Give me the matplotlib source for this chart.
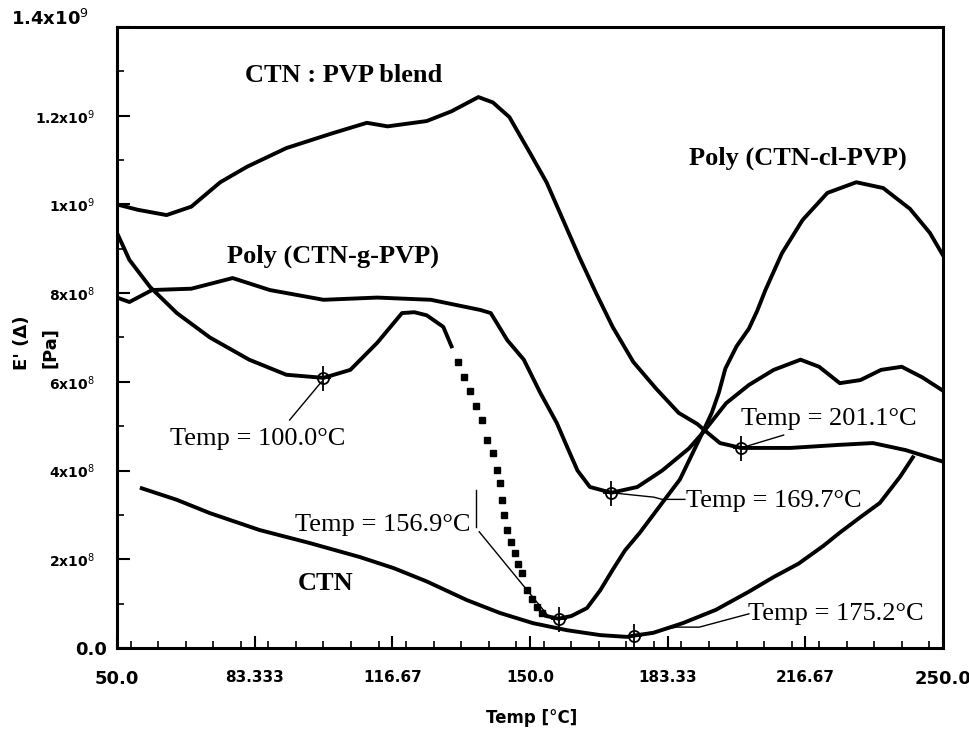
import numpy as np
import matplotlib
matplotlib.use('Agg')
import matplotlib.pyplot as plt
from matplotlib.ticker import MultipleLocator, FixedLocator
from matplotlib.transforms import ScaledTranslation

# values, E' in units of 1e8 Pa
blend_t = [50, 55, 62, 68, 75, 81.5, 91, 102, 110.5, 115.5, 125, 131, 137.5, 141, 145,
           150, 154, 158, 162, 166, 170, 175, 180.5, 186, 190.5, 193, 196, 201.1, 213,
           225, 233, 241, 250]
blend_e = [10.0, 9.88, 9.76, 9.95, 10.5, 10.85, 11.27, 11.6, 11.84, 11.76, 11.88, 12.1,
           12.42, 12.3, 11.97, 11.16, 10.5, 9.65, 8.8, 8.0, 7.24, 6.45, 5.85, 5.3, 5.05,
           4.85, 4.62, 4.51, 4.51, 4.58, 4.62, 4.46, 4.2]

graft_t = [50, 53, 58.5, 68, 78, 87, 100, 113, 126, 138, 140.5, 144.5, 148.5, 152.5,
           156.5, 159, 161.5, 164.5, 169.7, 176, 182, 188.5, 192, 197.5, 203, 209, 215.5,
           220, 225, 230, 235, 240, 245, 250]
graft_e = [7.9, 7.8, 8.07, 8.1, 8.34, 8.07, 7.85, 7.9, 7.85, 7.62, 7.55, 6.94, 6.5, 5.75,
           5.07, 4.53, 4.0, 3.63, 3.5, 3.63, 4.0, 4.5, 4.87, 5.52, 5.93, 6.27, 6.5, 6.34,
           5.97, 6.04, 6.27, 6.34, 6.1, 5.8]

# Poly(CTN-cl-PVP): solid / sparse square points / solid
cl1_t = [50, 53, 58, 64.5, 72.5, 82, 91, 100, 106.5, 113, 119, 122, 125, 129, 131]
cl1_e = [9.36, 8.75, 8.14, 7.55, 7.0, 6.5, 6.16, 6.09, 6.27, 6.88, 7.55, 7.57, 7.5, 7.24, 6.8]
cl_dot_t = [132.5, 134, 135.5, 137, 138.4, 139.6, 141, 142, 142.7, 143.2, 143.8, 144.4,
            145.4, 146.4, 147.2, 148, 149.3, 150.5, 151.7, 153]
cl_dot_e = [6.45, 6.1, 5.8, 5.45, 5.14, 4.69, 4.4, 4.01, 3.72, 3.34, 3.0, 2.66, 2.4, 2.14,
            1.9, 1.69, 1.3, 1.1, 0.92, 0.78]
cl2_t = [154, 156.9, 160, 163.8, 167, 170, 173, 176.6, 182, 186.3, 192, 194, 195.7, 197.3,
         200, 203, 205, 207, 211, 216, 222, 229, 235.5, 242, 246.8, 250]
cl2_e = [0.72, 0.66, 0.72, 0.9, 1.3, 1.76, 2.2, 2.6, 3.27, 3.8, 4.9, 5.3, 5.75, 6.3,
         6.8, 7.2, 7.6, 8.07, 8.9, 9.65, 10.26, 10.5, 10.37, 9.9, 9.36, 8.85]

ctn_t = [56, 64.5, 72.5, 84.5, 96.5, 108.8, 117, 125, 134.7, 142.7, 150.7, 159, 167, 173.5,
         175.2, 179.8, 187, 195, 203, 209, 215, 221, 225, 230, 234.7, 239.6, 242.7]
ctn_e = [3.6, 3.34, 3.04, 2.66, 2.37, 2.05, 1.8, 1.5, 1.08, 0.79, 0.56, 0.4, 0.29, 0.25,
         0.28, 0.34, 0.56, 0.86, 1.27, 1.6, 1.9, 2.3, 2.6, 2.95, 3.27, 3.86, 4.3]

# marked cursor points (temp, E')
mark_t = [100.0, 156.9, 169.7, 201.1, 175.2]
mark_e = [6.09, 0.66, 3.5, 4.51, 0.28]

xticks = [50, 83.333, 116.67, 150, 183.33, 216.67, 250]
xtick_labels = ['50.0', '83.333', '116.67', '150.0', '183.33', '216.67', '250.0']
yticks = [0, 2, 4, 6, 8, 10, 12, 14]
ytick_labels = ['0.0', '2x10$^8$', '4x10$^8$', '6x10$^8$', '8x10$^8$',
                '1x10$^9$', '1.2x10$^9$', '1.4x10$^9$']

S = 1e8
serif = 'Liberation Serif'

fig = plt.figure(figsize=(9.7, 7.34), dpi=100)
ax = fig.add_axes([0.1206, 0.1172, 0.8516, 0.846])

lw = 2.8
ax.plot(blend_t, np.array(blend_e) * S, color='black', lw=lw)
ax.plot(graft_t, np.array(graft_e) * S, color='black', lw=lw)
ax.plot(cl1_t, np.array(cl1_e) * S, color='black', lw=lw)
ax.plot(cl_dot_t, np.array(cl_dot_e) * S, 's', color='black', ms=4.5, ls='none')
ax.plot(cl2_t, np.array(cl2_e) * S, color='black', lw=lw)
ax.plot(ctn_t, np.array(ctn_e) * S, color='black', lw=lw)

# cursor markers
ax.plot(mark_t, np.array(mark_e) * S, 'o', ms=8, mfc='none', mec='black', mew=1.3)
ax.plot(mark_t, np.array(mark_e) * S, '|', ms=18, mec='black', mew=1.3)
ax.plot(mark_t, np.array(mark_e) * S, '_', ms=12, mec='black', mew=1.3)

# curve names
ax.text(80.9, 12.76 * S, 'CTN : PVP blend', family=serif, fontweight='bold', fontsize=19)
ax.text(76.6, 8.68 * S, 'Poly (CTN-g-PVP)', family=serif, fontweight='bold', fontsize=19)
ax.text(188.4, 10.89 * S, 'Poly (CTN-cl-PVP)', family=serif, fontweight='bold', fontsize=19)
ax.text(93.7, 1.31 * S, 'CTN', family=serif, fontweight='bold', fontsize=19)

# cursor readouts + leader lines
ax.text(62.8, 4.58 * S, 'Temp = 100.0°C', family=serif, fontsize=19)
ax.plot([91.8, 99.5], [5.14 * S, 6.0 * S], color='black', lw=1)

ax.text(93.0, 2.64 * S, 'Temp = 156.9°C', family=serif, fontsize=19)
ax.plot([137, 137], [3.56 * S, 2.73 * S], color='black', lw=1)
ax.plot([137.7, 154.6], [2.62 * S, 0.7 * S], color='black', lw=1)

ax.text(187.7, 3.18 * S, 'Temp = 169.7°C', family=serif, fontsize=19)
ax.plot([169.7, 180, 182, 187.5], [3.5 * S, 3.4 * S, 3.35 * S, 3.35 * S], color='black', lw=1)

ax.text(201.2, 5.03 * S, 'Temp = 201.1°C', family=serif, fontsize=19)
ax.plot([201.1, 211.4], [4.51 * S, 4.8 * S], color='black', lw=1)

ax.text(202.9, 0.63 * S, 'Temp = 175.2°C', family=serif, fontsize=19)
ax.plot([175.2, 185.5, 191, 203], [0.28 * S, 0.47 * S, 0.47 * S, 0.77 * S], color='black', lw=1)

ax.set_xlim(50, 250)
ax.set_ylim(0, 14 * S)

ax.xaxis.set_major_locator(FixedLocator(xticks))
ax.set_xticklabels(xtick_labels)
ax.xaxis.set_minor_locator(MultipleLocator(200 / 30))
ax.yaxis.set_major_locator(FixedLocator(np.array(yticks) * S))
ax.set_yticklabels(ytick_labels)
ax.yaxis.set_minor_locator(MultipleLocator(1 * S))

ax.tick_params(which='major', direction='in', length=9, width=1.5, top=False, right=False)
ax.tick_params(which='minor', direction='in', length=5, width=1.2, top=False, right=False)
ax.tick_params(axis='x', pad=16)

for lbl in ax.get_xticklabels():
    lbl.set_fontweight('bold')
    lbl.set_fontsize(13 if lbl.get_text() in ('50.0', '250.0') else 11)

# y labels: ends are big, the middle ones are small and sit further left
big_y = ('0.0', '1.4x10$^9$')
for tick, txt in zip(ax.yaxis.get_major_ticks(), ytick_labels):
    lbl = tick.label1
    lbl.set_fontweight('bold')
    if txt in big_y:
        lbl.set_fontsize(13)
        tick.set_pad(7 if txt == '0.0' else 20)
    else:
        lbl.set_fontsize(10)
        tick.set_pad(16)
top_lbl = ax.yaxis.get_major_ticks()[-1].label1
top_lbl.set_transform(top_lbl.get_transform() + ScaledTranslation(0, 7 / 72, fig.dpi_scale_trans))

for sp in ax.spines.values():
    sp.set_linewidth(2.2)

fig.text(0.0227, 0.533, "E' (Δ)", rotation=90, fontweight='bold', fontsize=13,
         ha='center', va='center')
fig.text(0.0515, 0.527, '[Pa]', rotation=90, fontweight='bold', fontsize=13,
         ha='center', va='center')
fig.text(0.548, 0.022, 'Temp [°C]', fontweight='bold', fontsize=12, ha='center', va='center')

fig.savefig('out.png', dpi=100)
